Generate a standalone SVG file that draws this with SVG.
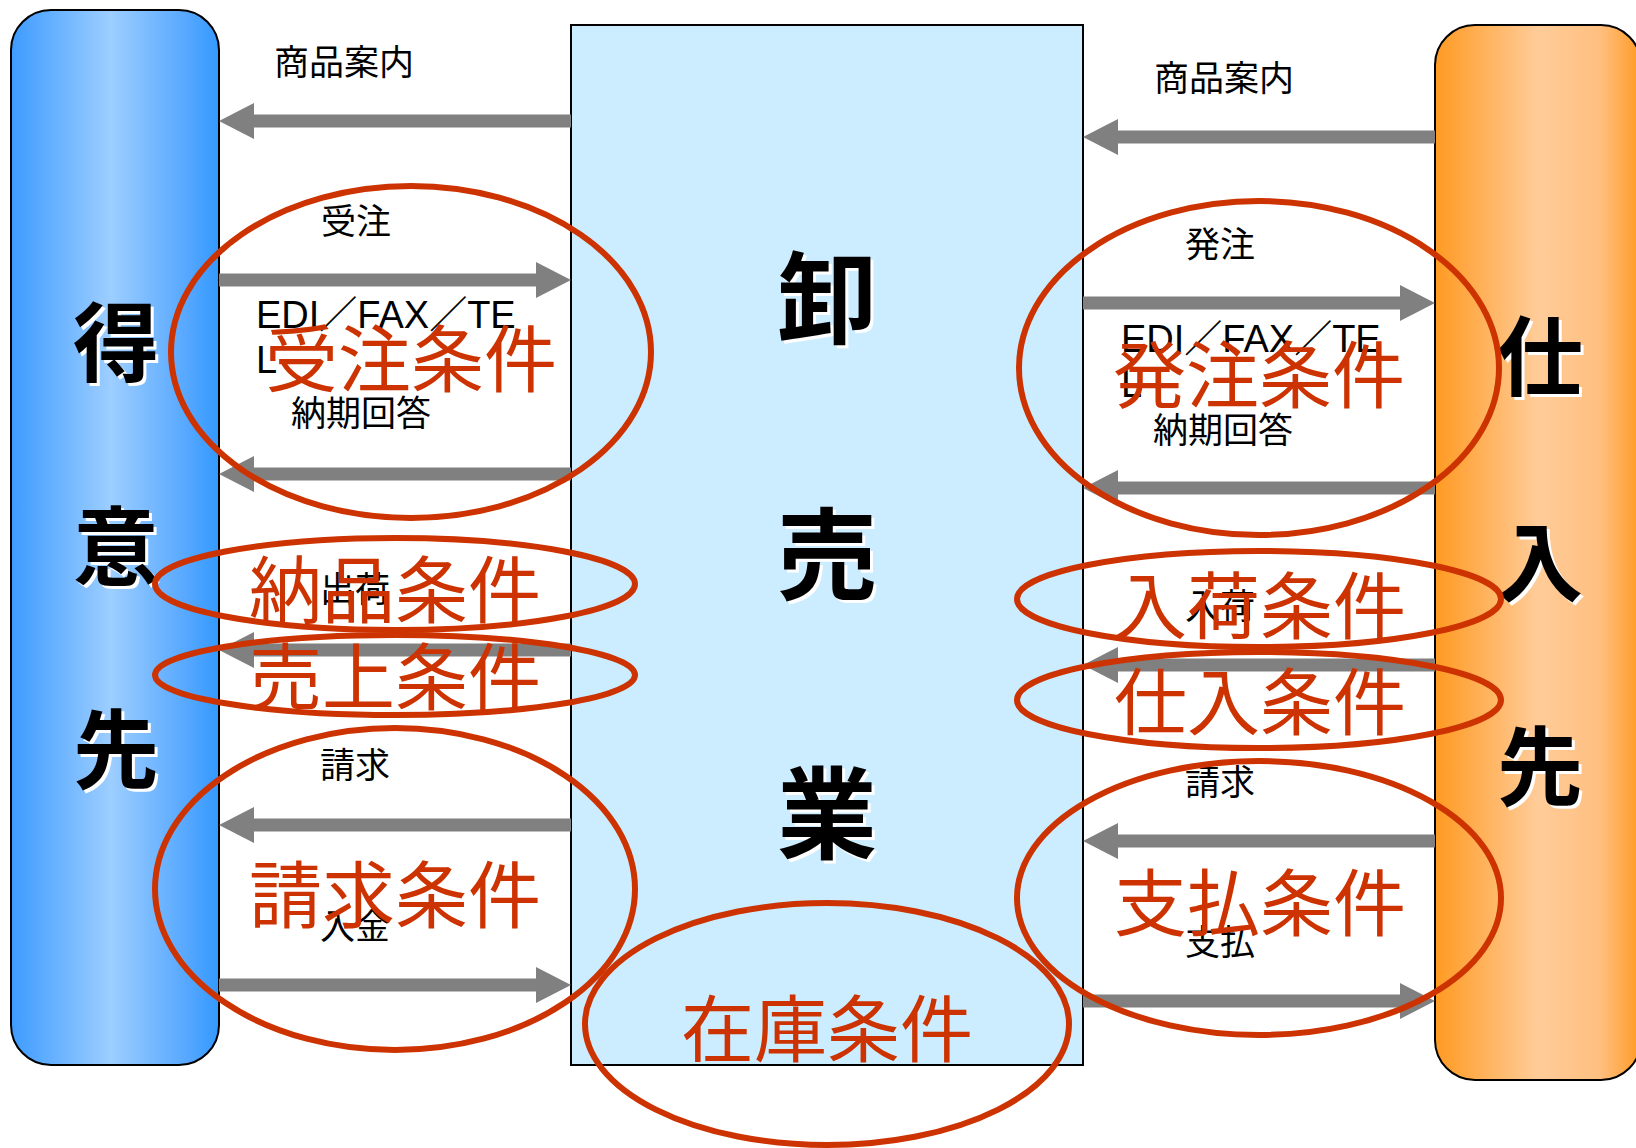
<svg xmlns="http://www.w3.org/2000/svg" width="1636" height="1148" viewBox="0 0 1636 1148">
<defs>
<linearGradient id="gBlue" x1="0" y1="0" x2="1" y2="0">
<stop offset="0" stop-color="#3D9BFF"/>
<stop offset="0.48" stop-color="#9DCEFF"/>
<stop offset="0.85" stop-color="#55A7FF"/>
<stop offset="1" stop-color="#3399FF"/>
</linearGradient>
<linearGradient id="gOrange" x1="0" y1="0" x2="1" y2="0">
<stop offset="0" stop-color="#FF9A22"/>
<stop offset="0.5" stop-color="#FFCC99"/>
<stop offset="0.8" stop-color="#FFBF80"/>
<stop offset="1" stop-color="#FF9A22"/>
</linearGradient>
<marker id="ah" viewBox="0 0 35 36" markerWidth="35" markerHeight="36" markerUnits="userSpaceOnUse" refX="0" refY="18" orient="auto">
<path d="M0,0 L35,18 L0,36 Z" fill="#808080"/>
</marker>
<style>
.bar{stroke:#000;stroke-width:2}
.arrow{stroke:#808080;stroke-width:13;fill:none;marker-end:url(#ah)}
.ell{fill:none;stroke:#CC3300;stroke-width:6}
.lbl{font-family:"Noto Sans CJK JP","Noto Sans CJK SC",sans-serif;font-size:35px;fill:#000;text-anchor:middle;dominant-baseline:central}
.lat{font-family:"Liberation Sans","Noto Sans CJK JP",sans-serif;font-size:38px;fill:#000}
.red{font-family:"Noto Sans CJK JP","Noto Sans CJK SC",sans-serif;font-size:73px;fill:#CC3300;text-anchor:middle;dominant-baseline:central}
.big{font-family:"Noto Sans CJK JP","Noto Sans CJK SC",sans-serif;font-weight:700;text-anchor:middle;dominant-baseline:central}
.sh{fill:#fff}
.fg{fill:#000}
</style>
</defs>

<g id="node-tokuisaki">
<rect class="bar" x="11" y="10" width="208" height="1055" rx="40" ry="40" fill="url(#gBlue)"/>
<g class="big" font-size="86">
<text class="sh" x="119" y="340">得</text><text class="fg" x="116" y="337">得</text>
<text class="sh" x="119" y="544">意</text><text class="fg" x="116" y="541">意</text>
<text class="sh" x="119" y="747">先</text><text class="fg" x="116" y="744">先</text>
</g>
</g>

<g id="node-oroshi">
<rect x="571" y="25" width="512" height="1040" fill="#CCECFF" stroke="#000" stroke-width="2"/>
<g class="big" font-size="100">
<text class="sh" x="830" y="295">卸</text><text class="fg" x="827" y="292">卸</text>
<text class="sh" x="830" y="551">売</text><text class="fg" x="827" y="548">売</text>
<text class="sh" x="830" y="810">業</text><text class="fg" x="827" y="807">業</text>
</g>
</g>

<g id="node-shiiresaki">
<rect class="bar" x="1435" y="25" width="206" height="1055" rx="40" ry="40" fill="url(#gOrange)"/>
<g class="big" font-size="86">
<text class="sh" x="1543" y="354">仕</text><text class="fg" x="1540" y="351">仕</text>
<text class="sh" x="1543" y="560">入</text><text class="fg" x="1540" y="557">入</text>
<text class="sh" x="1543" y="764">先</text><text class="fg" x="1540" y="761">先</text>
</g>
</g>

<g id="connectors">
<line class="arrow" x1="571" y1="121" x2="254" y2="121"/>
<line class="arrow" x1="219" y1="280" x2="536" y2="280"/>
<line class="arrow" x1="571" y1="474" x2="254" y2="474"/>
<line class="arrow" x1="571" y1="650" x2="254" y2="650"/>
<line class="arrow" x1="571" y1="825" x2="254" y2="825"/>
<line class="arrow" x1="219" y1="985" x2="536" y2="985"/>
<line class="arrow" x1="1435" y1="137" x2="1118" y2="137"/>
<line class="arrow" x1="1083" y1="303" x2="1400" y2="303"/>
<line class="arrow" x1="1435" y1="488" x2="1118" y2="488"/>
<line class="arrow" x1="1435" y1="665" x2="1118" y2="665"/>
<line class="arrow" x1="1435" y1="841" x2="1118" y2="841"/>
<line class="arrow" x1="1083" y1="1001" x2="1400" y2="1001"/>
</g>

<g id="labels">
<text class="lbl" x="344" y="59">商品案内</text>
<text class="lbl" x="356" y="218">受注</text>
<text class="lat" x="256" y="328">EDI／FAX／TE</text>
<text class="lat" x="256" y="373">L</text>
<text class="lbl" x="361" y="410">納期回答</text>
<text class="lbl" x="355" y="586">出荷</text>
<text class="lbl" x="355" y="762">請求</text>
<text class="lbl" x="355" y="923">入金</text>
<text class="lbl" x="1224" y="75">商品案内</text>
<text class="lbl" x="1220" y="241">発注</text>
<text class="lat" x="1121" y="352">EDI／FAX／TE</text>
<text class="lat" x="1121" y="397">L</text>
<text class="lbl" x="1223" y="427">納期回答</text>
<text class="lbl" x="1220" y="603">入荷</text>
<text class="lbl" x="1220" y="779">請求</text>
<text class="lbl" x="1220" y="939">支払</text>
</g>

<g id="conditions">
<ellipse class="ell" cx="411" cy="352" rx="240" ry="166"/>
<ellipse class="ell" cx="395" cy="584" rx="240" ry="46"/>
<ellipse class="ell" cx="395" cy="675" rx="240" ry="40"/>
<ellipse class="ell" cx="395" cy="889" rx="240" ry="161"/>
<ellipse class="ell" cx="827" cy="1024" rx="242" ry="121"/>
<ellipse class="ell" cx="1259" cy="368" rx="240" ry="167"/>
<ellipse class="ell" cx="1259" cy="599" rx="242" ry="48"/>
<ellipse class="ell" cx="1259" cy="700" rx="242" ry="48"/>
<ellipse class="ell" cx="1259" cy="898" rx="242" ry="137"/>
<text class="red" x="411" y="354">受注条件</text>
<text class="red" x="395" y="585">納品条件</text>
<text class="red" x="395" y="672">売上条件</text>
<text class="red" x="395" y="890">請求条件</text>
<text class="red" x="827" y="1024">在庫条件</text>
<text class="red" x="1259" y="370">発注条件</text>
<text class="red" x="1260" y="601">入荷条件</text>
<text class="red" x="1260" y="697">仕入条件</text>
<text class="red" x="1260" y="898">支払条件</text>
</g>
</svg>
